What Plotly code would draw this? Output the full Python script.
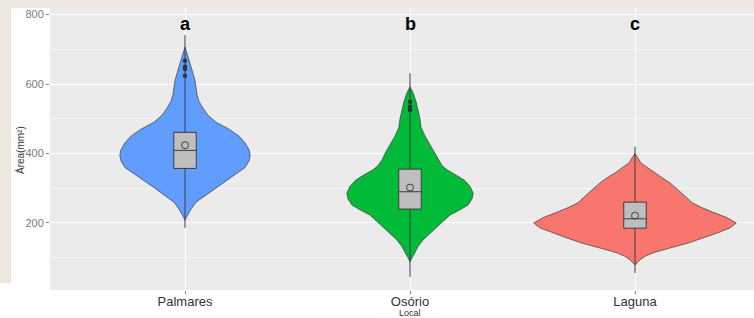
import plotly.graph_objects as go

# ---------------- data ----------------
categories = ["Palmares", "Osório", "Laguna"]
letters = ["a", "b", "c"]
colors = ["#619CFF", "#00BA38", "#F8766D"]

# violin outlines: area (mm²) levels and relative density at each level
palmares_area = [707, 690, 670, 650, 630, 610, 590, 570, 550, 530, 510, 490, 470, 450, 430,
                 410, 395, 380, 360, 340, 320, 300, 280, 260, 240, 225, 209]
palmares_dens = [0, 2, 4, 6, 8, 10, 11, 12, 14, 18, 23, 31, 44, 54, 60,
                 64, 65, 64, 60, 50, 40, 30, 20, 11, 6, 3, 0]

osorio_area = [592, 575, 550, 525, 500, 476, 450, 430, 405, 381, 365, 353, 340, 324,
               305, 286, 270, 252, 238, 223, 205, 188, 170, 151, 132, 114, 100, 88]
osorio_dens = [0, 3, 6, 8, 10, 11, 15, 19, 24, 28, 32, 37, 45, 54,
               60, 63, 62, 58, 50, 40, 33, 27, 20, 13, 8, 5, 2, 0]

laguna_area = [400, 387, 373, 358, 344, 330, 315, 300, 286, 272, 258, 245, 232, 215,
               200, 186, 171, 157, 142, 128, 114, 104, 94, 79]
laguna_dens = [0, 3, 6, 13, 20, 28, 35, 41, 47, 52, 57, 66, 77, 92,
               101, 95, 82, 68, 53, 35, 18, 10, 5, 0]

# box statistics
q1 = [357, 240, 185]
median = [409, 290, 212]
q3 = [461, 355, 260]
mean = [424, 302, 221]
line_min = [186, 45, 56]
line_max = [741, 631, 420]

# outliers
out_palmares = [667, 650, 643, 624]
out_osorio = [549, 535, 525]
out_laguna = []

y_ticks = [200, 400, 600, 800]

# ---------------- figure ----------------
areas = [palmares_area, osorio_area, laguna_area]
dens = [palmares_dens, osorio_dens, laguna_dens]
outs = [out_palmares, out_osorio, out_laguna]
xpos = [1, 2, 3]
dmax = max(max(d) for d in dens)
XR = [0.4, 0.4 + 704 / 225]
YR = [7, 819]
FONT = "Liberation Sans, Arial"

fig = go.Figure()

for i in range(3):
    c = xpos[i]
    hw = [0.45 * d / dmax for d in dens[i]]
    xs = [c + h for h in hw] + [c - h for h in reversed(hw)]
    ys = list(areas[i]) + list(reversed(areas[i]))
    xs.append(xs[0]); ys.append(ys[0])
    fig.add_trace(go.Scatter(x=xs, y=ys, mode="lines", fill="toself",
                             fillcolor=colors[i],
                             line=dict(color="#3a3a3a", width=0.7),
                             hoverinfo="skip", showlegend=False))

for i in range(3):
    fig.add_trace(go.Box(x=[xpos[i]], q1=[q1[i]], median=[median[i]], q3=[q3[i]],
                         lowerfence=[line_min[i]], upperfence=[line_max[i]],
                         width=0.1, whiskerwidth=0,
                         fillcolor="#BEBEBE",
                         line=dict(color="#3d3d3d", width=1),
                         xaxis="x2", yaxis="y2",
                         showlegend=False, hoverinfo="skip"))

for i in range(3):
    if outs[i]:
        fig.add_trace(go.Scatter(x=[xpos[i]] * len(outs[i]), y=outs[i], mode="markers",
                                 marker=dict(color="#333333", size=4.5),
                                 xaxis="x2", yaxis="y2",
                                 showlegend=False, hoverinfo="skip"))
    fig.add_trace(go.Scatter(x=[xpos[i]], y=[mean[i]], mode="markers",
                             marker=dict(symbol="circle-open", color="#3d3d3d", size=7,
                                         line=dict(width=1)),
                             xaxis="x2", yaxis="y2",
                             showlegend=False, hoverinfo="skip"))

annotations = []
for i in range(3):
    annotations.append(dict(x=xpos[i], y=773, xref="x", yref="y", text="<b>%s</b>" % letters[i],
                            xanchor="center", yanchor="middle",
                            showarrow=False, font=dict(family=FONT, size=18, color="#000000")))
annotations.append(dict(x=(20 - 50) / 704, y=(290 - 150) / 282, xref="paper", yref="paper",
                        text="Área(mm²)", textangle=-90, showarrow=False,
                        xanchor="center", yanchor="middle",
                        font=dict(family=FONT, size=10, color="#333333")))
annotations.append(dict(x=(410 - 50) / 704, y=(290 - 313) / 282, xref="paper", yref="paper",
                        text="Local", showarrow=False,
                        xanchor="center", yanchor="middle",
                        font=dict(family=FONT, size=9, color="#333333")))

shapes = [
    dict(type="rect", xref="paper", yref="paper", x0=-50 / 704, x1=1.0,
         y0=(290 - 8) / 282, y1=(290 + 0) / 282, fillcolor="#ECE7DE", line=dict(width=0),
         layer="below"),
    dict(type="rect", xref="paper", yref="paper", x0=-50 / 704, x1=-39 / 704,
         y0=(290 - 283) / 282, y1=(290 + 0) / 282, fillcolor="#ECE7DE", line=dict(width=0),
         layer="below"),
]

fig.update_layout(
    width=754, height=318,
    margin=dict(l=50, r=0, t=8, b=28),
    paper_bgcolor="#FFFFFF",
    plot_bgcolor="#EBEBEB",
    font=dict(family=FONT),
    annotations=annotations,
    shapes=shapes,
    xaxis=dict(range=XR, tickvals=xpos, ticktext=categories,
               showgrid=True, gridcolor="#FFFFFF", gridwidth=1.2, zeroline=False,
               ticks="outside", ticklen=3, tickcolor="#7f7f7f", ticklabelstandoff=-4,
               tickfont=dict(size=13, color="#333333"), fixedrange=True),
    yaxis=dict(range=YR, tickvals=y_ticks,
               showgrid=True, gridcolor="#FFFFFF", gridwidth=1.2, zeroline=False,
               ticks="outside", ticklen=3, tickcolor="#7f7f7f",
               tickfont=dict(size=11, color="#7a7a7a"),
               minor=dict(tickvals=[100, 300, 500, 700], showgrid=True,
                          gridcolor="#F7F7F7", gridwidth=0.7, ticks=""),
               fixedrange=True),
    xaxis2=dict(range=XR, overlaying="x", visible=False, fixedrange=True),
    yaxis2=dict(range=YR, overlaying="y", visible=False, fixedrange=True),
)

fig.write_html("out.html", post_script="document.body.style.margin='0';",
               config={"displayModeBar": False})
